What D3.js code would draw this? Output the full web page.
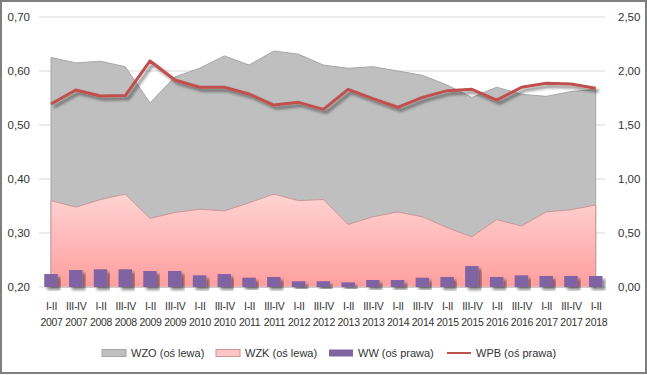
<!DOCTYPE html>
<html>
<head>
<meta charset="utf-8">
<script src="https://cdn.jsdelivr.net/npm/d3@7"></script>
<style>
  body { margin: 0; background: #fff; }
  text { font-family: "Liberation Sans", Arial, sans-serif; fill: #333; }
</style>
</head>
<body>
<div id="vis"></div>
<script>
var halves = ['I-II','III-IV','I-II','III-IV','I-II','III-IV','I-II','III-IV','I-II','III-IV','I-II','III-IV',
              'I-II','III-IV','I-II','III-IV','I-II','III-IV','I-II','III-IV','I-II','III-IV','I-II'];
var years  = ['2007','2007','2008','2008','2009','2009','2010','2010','2011','2011','2012','2012',
              '2013','2013','2014','2014','2015','2015','2016','2016','2017','2017','2018'];

// left axis series
var wzo = [0.625,0.615,0.618,0.608,0.541,0.589,0.605,0.628,0.611,0.637,0.631,0.611,
           0.605,0.608,0.600,0.592,0.574,0.551,0.570,0.557,0.553,0.562,0.566];
var wzk = [0.360,0.348,0.362,0.372,0.327,0.338,0.344,0.341,0.356,0.372,0.360,0.362,
           0.316,0.330,0.339,0.330,0.310,0.293,0.325,0.313,0.339,0.343,0.352];
// right axis series
var ww  = [0.12,0.157,0.164,0.164,0.148,0.148,0.108,0.12,0.086,0.093,0.053,0.053,
           0.043,0.065,0.065,0.086,0.093,0.194,0.093,0.108,0.102,0.102,0.102];
var wpb = [1.694,1.824,1.769,1.772,2.093,1.917,1.849,1.849,1.787,1.685,1.710,1.645,
           1.830,1.744,1.664,1.756,1.818,1.830,1.731,1.849,1.886,1.880,1.840];

var leftTicks  = [0.20,0.30,0.40,0.50,0.60,0.70];
var rightTicks = [0,0.5,1,1.5,2,2.5];

var width = 647, height = 375;
var fmt = function(d){ return d3.format('.2f')(d).replace('.', ','); };

var svg = d3.select('#vis').append('svg')
  .attr('width', width)
  .attr('height', height);

var defs = svg.append('defs');
var grad = defs.append('linearGradient')
  .attr('id', 'pinkGrad')
  .attr('x1', 0).attr('y1', 0).attr('x2', 0).attr('y2', 1);
grad.append('stop').attr('offset', '0%').attr('stop-color', '#ffd3d3');
grad.append('stop').attr('offset', '100%').attr('stop-color', '#ff9e9e');

var shadow = defs.append('filter').attr('id', 'shadow')
  .attr('x', '-10%').attr('y', '-10%').attr('width', '130%').attr('height', '140%');
shadow.append('feDropShadow')
  .attr('dx', 3).attr('dy', 3).attr('stdDeviation', 1.6)
  .attr('flood-color', '#000').attr('flood-opacity', 0.45);

// frame
svg.append('rect')
  .attr('x', 1).attr('y', 1)
  .attr('width', width - 2).attr('height', 372)
  .attr('fill', 'none')
  .attr('stroke', '#7f7f7f')
  .attr('stroke-width', 2);

var xScale = d3.scalePoint()
  .domain(d3.range(halves.length))
  .range([51, 595.7]);

var yLeft = d3.scaleLinear().domain([0.20, 0.70]).range([287, 17]);
var yRight = d3.scaleLinear().domain([0, 2.5]).range([287, 17]);

// gridlines
svg.append('g')
  .selectAll('line')
  .data(leftTicks.slice(1))
  .join('line')
  .attr('x1', 39).attr('x2', 605)
  .attr('y1', function(d){ return yLeft(d); })
  .attr('y2', function(d){ return yLeft(d); })
  .attr('stroke', '#d9d9d9')
  .attr('stroke-width', 1);

// WZO / WZK areas
var areaL = function(vals){
  return d3.area()
    .x(function(d, i){ return xScale(i); })
    .y0(yLeft(0.20))
    .y1(function(d){ return yLeft(d); })(vals);
};

svg.append('path')
  .attr('d', areaL(wzo))
  .attr('fill', '#bfbfbf')
  .attr('stroke', '#a6a6a6')
  .attr('stroke-width', 1);

svg.append('path')
  .attr('d', areaL(wzk))
  .attr('fill', 'url(#pinkGrad)')
  .attr('stroke', '#c8979a')
  .attr('stroke-width', 1);

svg.append('line')
  .attr('x1', 39).attr('x2', 605)
  .attr('y1', yLeft(0.20)).attr('y2', yLeft(0.20))
  .attr('stroke', '#d9d9d9');

// WW bars
var barW = 13.5;
svg.append('g')
  .selectAll('rect')
  .data(ww)
  .join('rect')
  .attr('x', function(d, i){ return xScale(i) - barW / 2; })
  .attr('y', function(d){ return yRight(d); })
  .attr('width', barW)
  .attr('height', function(d){ return yRight(0) - yRight(d); })
  .attr('fill', '#8064a2')
  .attr('filter', 'url(#shadow)');

// WPB line
var line = d3.line()
  .x(function(d, i){ return xScale(i); })
  .y(function(d){ return yRight(d); });

svg.append('path')
  .attr('d', line(wpb))
  .attr('fill', 'none')
  .attr('stroke', '#c0504d')
  .attr('stroke-width', 3)
  .attr('stroke-linejoin', 'round')
  .attr('filter', 'url(#shadow)');

// left axis
var leftAxis = svg.append('g')
  .attr('transform', 'translate(30,0)')
  .call(d3.axisLeft(yLeft).tickValues(leftTicks).tickFormat(fmt).tickSize(0).tickPadding(0));
leftAxis.select('.domain').remove();
leftAxis.selectAll('text').style('font-size', '11.5px').style('fill', '#333')
  .style('font-family', '"Liberation Sans", Arial, sans-serif');

// right axis
var rightAxis = svg.append('g')
  .attr('transform', 'translate(618,0)')
  .call(d3.axisRight(yRight).tickValues(rightTicks).tickFormat(fmt).tickSize(0).tickPadding(0));
rightAxis.select('.domain').remove();
rightAxis.selectAll('text').style('font-size', '11.5px').style('fill', '#333')
  .style('font-family', '"Liberation Sans", Arial, sans-serif');

// x axis labels, two rows
var xAxis = svg.append('g')
  .attr('transform', 'translate(0,' + 300 + ')')
  .call(d3.axisBottom(xScale).tickSize(0).tickFormat(''));
xAxis.select('.domain').remove();
xAxis.selectAll('.tick text').remove();
xAxis.selectAll('.tick').append('text')
  .attr('text-anchor', 'middle')
  .style('font-size', '10.5px')
  .style('letter-spacing', '-0.3px')
  .style('font-family', '"Liberation Sans", Arial, sans-serif')
  .style('fill', '#333')
  .each(function(d){
    var t = d3.select(this);
    t.append('tspan').attr('x', 0).attr('y', 10).text(halves[d]);
    t.append('tspan').attr('x', 0).attr('y', 26).text(years[d]);
  });

// legend
var legend = [
  {name: 'WZO (oś lewa)', type: 'area', fill: '#bfbfbf', stroke: '#a6a6a6', x: 102},
  {name: 'WZK (oś lewa)', type: 'area', fill: '#ffc4c4', stroke: '#c8979a', x: 216},
  {name: 'WW (oś prawa)', type: 'bar', fill: '#8064a2', stroke: 'none', x: 329},
  {name: 'WPB (oś prawa)', type: 'line', fill: '#c0504d', stroke: 'none', x: 447}
];
var lg = svg.append('g');
legend.forEach(function(l){
  if (l.type === 'line') {
    lg.append('line')
      .attr('x1', l.x).attr('x2', l.x + 24)
      .attr('y1', 353).attr('y2', 353)
      .attr('stroke', l.fill).attr('stroke-width', 2);
  } else {
    lg.append('rect')
      .attr('x', l.x).attr('y', 349.5)
      .attr('width', 24).attr('height', 7)
      .attr('fill', l.fill)
      .attr('stroke', l.stroke);
  }
  lg.append('text')
    .attr('x', l.x + 29)
    .attr('y', 357)
    .style('font-size', '11px')
    .text(l.name);
});
</script>
</body>
</html>
